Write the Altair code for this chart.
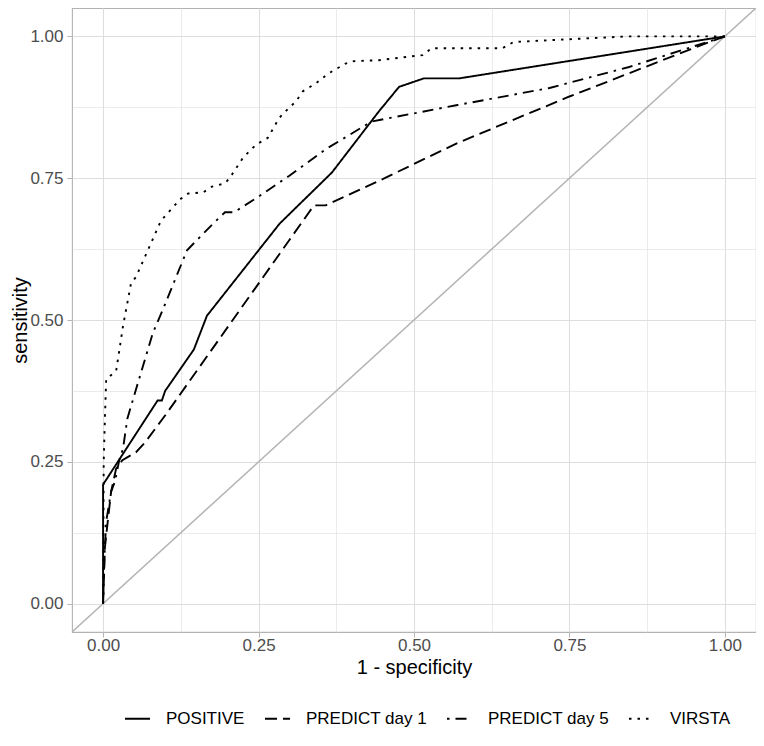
import altair as alt
import pandas as pd

# ---- data ----
series_names = ["POSITIVE", "PREDICT day 1", "PREDICT day 5", "VIRSTA"]

positive_fpr = [0, 0, 0.0876, 0.0945, 0.0998, 0.146, 0.167, 0.284, 0.368, 0.443, 0.476, 0.516, 0.573, 1.0]
positive_tpr = [0, 0.21, 0.358, 0.358, 0.375, 0.448, 0.5075, 0.670, 0.760, 0.867, 0.911, 0.926, 0.926, 1.0]

day1_fpr = [0, 0.003, 0.0075, 0.013, 0.021, 0.031, 0.053, 0.068, 0.100, 0.339, 0.358, 0.443, 0.570, 0.750, 0.963, 1.0]
day1_tpr = [0, 0.10, 0.145, 0.198, 0.238, 0.253, 0.267, 0.285, 0.332, 0.702, 0.702, 0.745, 0.812, 0.894, 0.985, 1.0]

day5_fpr = [0, 0.002, 0.005, 0.013, 0.019, 0.026, 0.032, 0.039, 0.053, 0.080, 0.096, 0.135, 0.177,
            0.196, 0.211, 0.252, 0.299, 0.358, 0.432, 0.570, 0.718, 0.846, 1.0]
day5_tpr = [0, 0.08, 0.145, 0.198, 0.215, 0.253, 0.273, 0.326, 0.378, 0.477, 0.518, 0.623, 0.670,
            0.690, 0.690, 0.719, 0.754, 0.801, 0.850, 0.879, 0.909, 0.946, 1.0]

virsta_fpr = [0, 0.001, 0.003, 0.005, 0.021, 0.032, 0.045, 0.053, 0.093, 0.124, 0.137, 0.161, 0.175,
              0.196, 0.204, 0.225, 0.246, 0.265, 0.283, 0.299, 0.310, 0.321, 0.342, 0.363, 0.390,
              0.400, 0.443, 0.514, 0.528, 0.642, 0.660, 0.750, 0.846, 1.0]
virsta_tpr = [0, 0.25, 0.33, 0.396, 0.41, 0.489, 0.565, 0.576, 0.675, 0.713, 0.723, 0.725, 0.735,
              0.741, 0.751, 0.786, 0.809, 0.821, 0.856, 0.874, 0.885, 0.903, 0.917, 0.935, 0.952,
              0.956, 0.958, 0.967, 0.979, 0.979, 0.990, 0.995, 1.0, 1.0]

axis_ticks = [0, 0.125, 0.25, 0.375, 0.5, 0.625, 0.75, 0.875, 1.0]
axis_domain = [-0.05, 1.05]
dash_styles = [[1, 0], [12, 6], [2.5, 6, 11, 6], [2.5, 6]]

# ---- build tables ----
rows = []
for name, xs, ys in zip(series_names,
                        [positive_fpr, day1_fpr, day5_fpr, virsta_fpr],
                        [positive_tpr, day1_tpr, day5_tpr, virsta_tpr]):
    for i, (a, b) in enumerate(zip(xs, ys)):
        rows.append({"series": name, "fpr": a, "tpr": b, "idx": i})
roc = pd.DataFrame(rows)
diag = pd.DataFrame({"fpr": axis_domain, "tpr": axis_domain})

major_test = "round(datum.value * 4) == datum.value * 4"
label_expr = f"{major_test} ? format(datum.value, '.2f') : ''"


def make_axis(title, is_y=False):
    if is_y:
        extra = dict(titleX=-52, titleBaseline="middle", labelPadding=4)
    else:
        extra = dict(titlePadding=4, labelPadding=0)
    return alt.Axis(
        title=title,
        values=axis_ticks,
        labelExpr=label_expr,
        labelFont="Liberation Sans",
        labelFontSize=17,
        labelColor="#4d4d4d",
        titleFont="Liberation Sans",
        titleFontSize=20,
        titleFontWeight="normal",
        titleColor="black",
        tickColor="#b3b3b3",
        tickSize=5,
        tickWidth=1,
        tickOpacity={"condition": {"test": major_test, "value": 1}, "value": 0},
        domain=False,
        grid=True,
        gridColor="#dedede",
        gridWidth={"condition": {"test": major_test, "value": 1.1}, "value": 0.6},
        labelFlush=False,
        labelOverlap=False,
        **extra,
    )


xscale = alt.Scale(domain=axis_domain, nice=False, zero=False)
yscale = alt.Scale(domain=axis_domain, nice=False, zero=False)

x_enc = alt.X("fpr:Q", scale=xscale, axis=make_axis("1 - specificity"))
y_enc = alt.Y("tpr:Q", scale=yscale, axis=make_axis("sensitivity", True))

diag_layer = alt.Chart(diag).mark_line(color="#b3b3b3", strokeWidth=1.5, clip=True).encode(
    x=x_enc, y=y_enc
)

roc_layer = alt.Chart(roc).mark_line(color="black", strokeWidth=1.9, clip=True, strokeCap="butt").encode(
    x=x_enc,
    y=y_enc,
    order=alt.Order("idx:Q"),
    strokeDash=alt.StrokeDash(
        "series:N",
        scale=alt.Scale(domain=series_names, range=dash_styles),
        legend=alt.Legend(
            title=None,
            orient="none",
            direction="horizontal",
            legendX=52,
            legendY=697,
            symbolType="stroke",
            symbolSize=625,
            symbolStrokeWidth=1.9,
            symbolStrokeColor="black",
            labelFont="Liberation Sans",
            labelFontSize=17,
            labelColor="black",
            labelOffset=15,
            columnPadding=16,
            padding=0,
        ),
    ),
)

chart = (
    alt.layer(diag_layer, roc_layer)
    .properties(
        width=684,
        height=624,
        autosize=alt.AutoSizeParams(type="none"),
        padding={"left": 64, "top": 0, "right": 0, "bottom": 101},
        background="white",
    )
    .configure_view(stroke="#b3b3b3", strokeWidth=1.1)
)

chart.save("out.html", embed_options={"renderer": "svg", "actions": False})
